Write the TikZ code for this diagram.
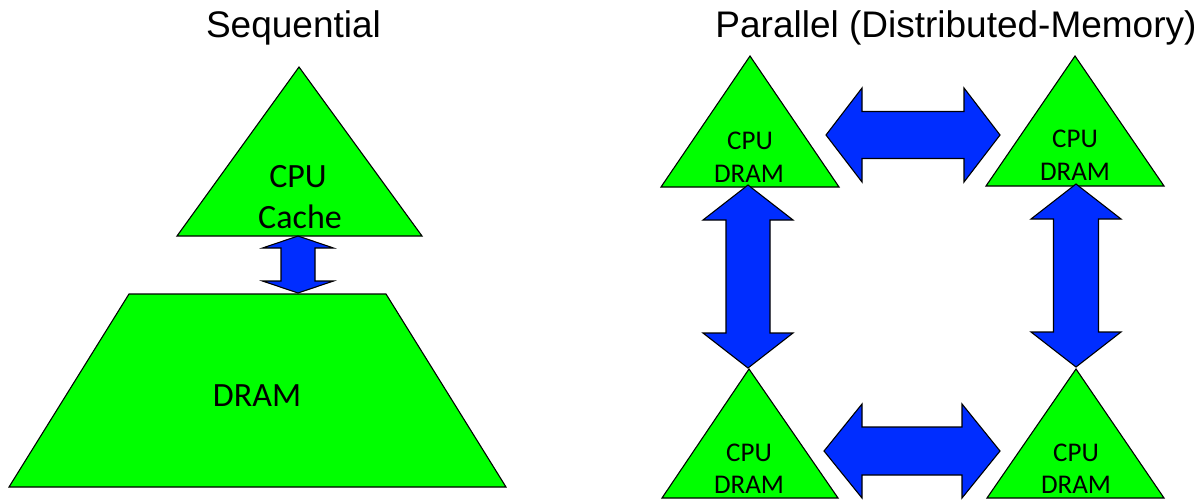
\documentclass[tikz,border=0pt]{standalone}
\usepackage{fontspec}
\setmainfont{Liberation Sans}
\newfontfamily\labelfont{Carlito}
\definecolor{memgreen}{RGB}{0,255,0}
\definecolor{linkblue}{RGB}{0,45,255}
% vertical double arrow: centre x, top tip y, bottom tip y, head length, head half-width, shaft half-width
\newcommand\VLink[7]{%
  \draw[link] (#2,#3) -- ({#2+#6},{#3+#5}) -- ({#2+#7},{#3+#5}) -- ({#2+#7},{#4-#5})
    -- ({#2+#6},{#4-#5}) -- (#2,#4) coordinate (#1-end) -- ({#2-#6},{#4-#5}) -- ({#2-#7},{#4-#5})
    -- ({#2-#7},{#3+#5}) -- ({#2-#6},{#3+#5}) -- cycle;}
% horizontal double arrow: centre y, left tip x, right tip x, head length, head half-height, shaft half-height
\newcommand\HLink[7]{%
  \draw[link] (#3,#2) -- ({#3+#5},{#2-#6}) -- ({#3+#5},{#2-#7}) -- ({#4-#5},{#2-#7})
    -- ({#4-#5},{#2-#6}) -- (#4,#2) coordinate (#1-end) -- ({#4-#5},{#2+#6}) -- ({#4-#5},{#2+#7})
    -- ({#3+#5},{#2+#7}) -- ({#3+#5},{#2+#6}) -- cycle;}
\begin{document}
\begin{tikzpicture}[x=1pt,y=-1pt,
  mem/.style={draw=black,fill=memgreen,line width=1.1pt,line join=miter},
  link/.style={draw=black,fill=linkblue,line width=1.1pt,line join=miter},
  title/.style={font=\fontsize{37}{42}\selectfont,anchor=base,inner sep=0pt},
  biglabel/.style={font=\labelfont\fontsize{34}{40}\selectfont,anchor=base,inner sep=0pt},
  smalllabel/.style={font=\labelfont\fontsize{27}{32}\selectfont,anchor=base,inner sep=0pt}]
\useasboundingbox (0,0) rectangle (1201,499);

% titles
\node[title] (tseq) at (293.5,37) {Sequential};
\node[title] (tpar) at (956,37) {Parallel (Distributed-Memory)};

% sequential machine: cache triangle above DRAM trapezoid
\draw[mem] (177,236) -- (422,236) -- (299,67) -- cycle;
\draw[mem] (129,294) -- (386,294) -- (506,487) -- (9,487) -- cycle;
\node[biglabel] (cpu0) at (298,187) {CPU};
\node[biglabel] (cache0) at (300,228) {Cache};
\node[biglabel] (dram0) at (257,406) {DRAM};

% parallel machine: four processors
\draw[mem] (661,187) -- (839,187) -- (750,56) -- cycle;
\draw[mem] (986,186) -- (1164,186) -- (1075,56) -- cycle;
\draw[mem] (662,498) -- (838,498) -- (749,369) -- cycle;
\draw[mem] (987,498) -- (1164,498) -- (1076,369) -- cycle;
\node[smalllabel] (cpu1) at (750,149) {CPU};
\node[smalllabel] (dram1) at (749,182) {DRAM};
\node[smalllabel] (cpu2) at (1075,147) {CPU};
\node[smalllabel] (dram2) at (1075,180) {DRAM};
\node[smalllabel] (cpu3) at (749,461) {CPU};
\node[smalllabel] (dram3) at (749,493) {DRAM};
\node[smalllabel] (cpu4) at (1076,461) {CPU};
\node[smalllabel] (dram4) at (1076,493) {DRAM};

% data movement
\VLink{seq}{298}{236}{293}{12}{35.5}{17}
\HLink{top}{135}{826}{1000}{36}{47}{23.5}
\HLink{bottom}{451}{824}{1000}{38}{47}{24}
\VLink{left}{748}{185}{368}{35}{45}{22}
\VLink{right}{1076}{184}{367}{35}{45}{22.5}
\end{tikzpicture}
\end{document}
